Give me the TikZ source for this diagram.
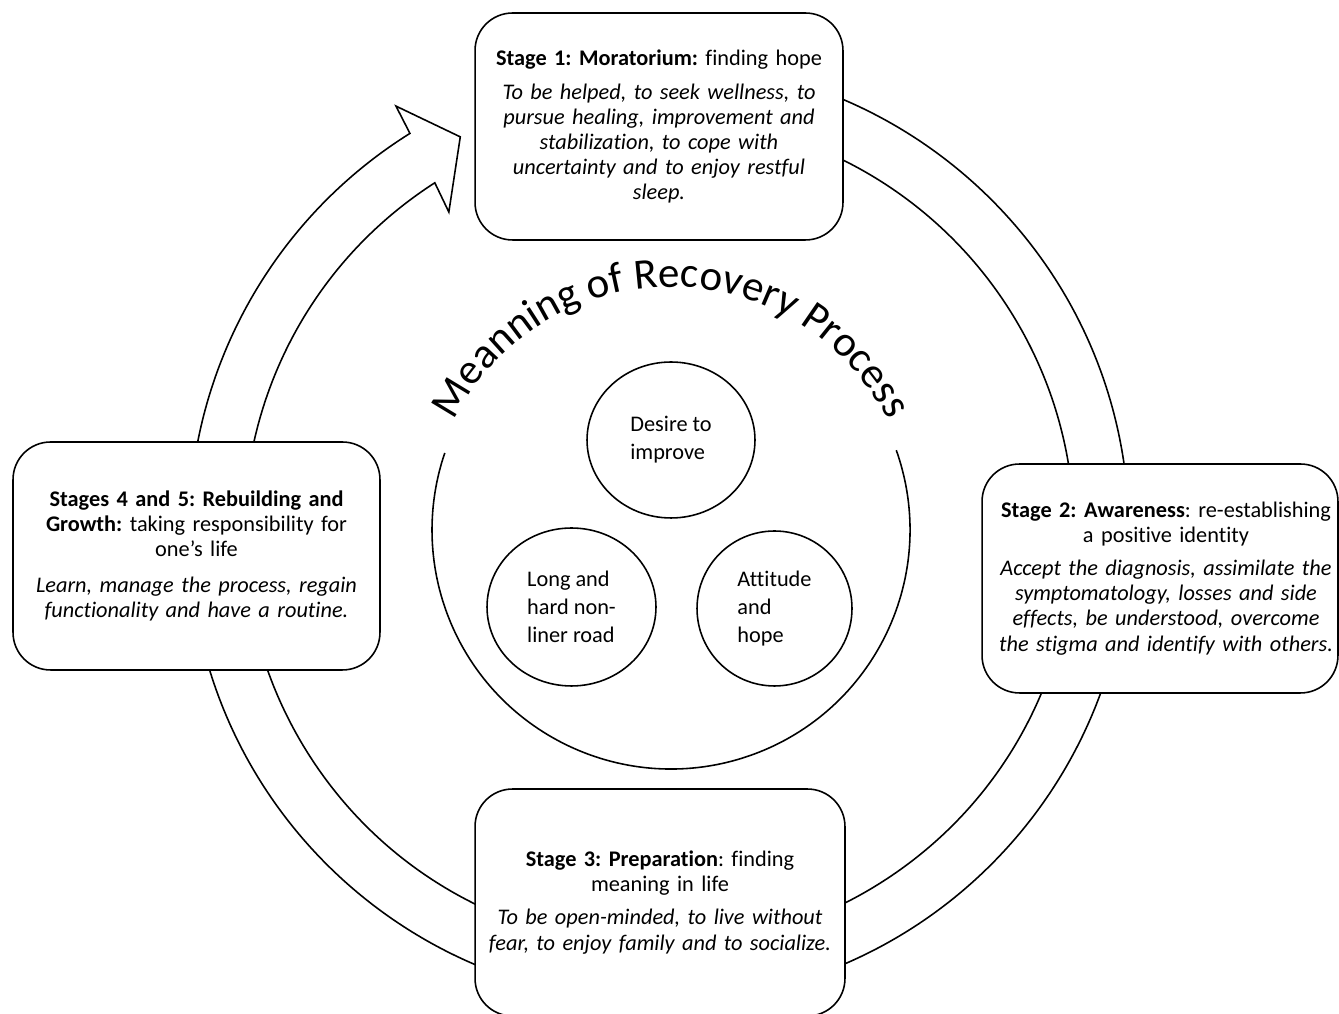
\documentclass[tikz,border=0pt]{standalone}
\usepackage{fontspec}
\setmainfont{Carlito}[Ligatures=NoCommon]
\frenchspacing
\usetikzlibrary{shapes.geometric, decorations.text, positioning}
\tikzstyle{sbox} = [draw, fill=white, rounded corners=0.75cm, line width=0.9pt, inner sep=0pt, text width=7cm, align=center, font=\fontsize{12.7}{14.3}\selectfont]
\tikzstyle{cnode} = [ellipse, draw, line width=0.9pt, inner sep=0pt, align=left, font=\fontsize{12.7}{15.9}\selectfont]
\tikzstyle{line} = [draw, line width=0.9pt]

\begin{document}
\begin{tikzpicture}[x=0.02cm, y=0.02cm]
	\useasboundingbox (0,0) rectangle (1339,1014);
	\coordinate (ctr) at (659,482);
	\coordinate (mid) at (671,484);

	% ring with its arrow head
	\path [line, shift={(ctr)}] (95:470) arc[start angle=95, end angle=-238, radius=470]
		-- (-238.3:500.6) -- (-243.3:442.3) -- (-236.7:382.8) -- (-237.3:415)
		arc[start angle=-237.3, end angle=95, radius=415] -- cycle;

	% stages
	\node [sbox, minimum width=7.36cm, minimum height=4.54cm] (s1) at (659,887.5) {\textbf{Stage 1: Moratorium:} finding hope\\[5pt]
		{\itshape To be helped, to seek wellness, to\\ pursue healing, improvement and\\ stabilization, to cope with\\ uncertainty and to enjoy restful\\ sleep.}};
	\node [sbox, minimum width=7.12cm, minimum height=4.58cm] (s2) at (1160,435.5) {\hspace*{0.24cm}\textbf{Stage 2: Awareness}: re-establishing\\ \hspace*{0.24cm}a positive identity\\[4.5pt]
		{\itshape \hspace*{0.24cm}Accept the diagnosis, assimilate the\\ \hspace*{0.24cm}symptomatology, losses and side\\ \hspace*{0.24cm}effects, be understood, overcome\\ \hspace*{0.24cm}the stigma and identify with others.}};
	\node [sbox, minimum width=7.4cm, minimum height=4.54cm] (s3) at (660,111.5) {\textbf{Stage 3: Preparation}: finding\\ meaning in life\\[4.5pt]
		{\itshape To be open-minded, to live without\\ fear, to enjoy family and to socialize.}};
	\node [sbox, minimum width=7.34cm, minimum height=4.56cm] (s45) at (196.5,458) {\textbf{Stages 4 and 5: Rebuilding and}\\ \textbf{Growth:} taking responsibility for\\ one’s life\\[6pt]
		{\itshape Learn, manage the process, regain\\ functionality and have a routine.}};

	% meaning of recovery
	\path [line] (mid) ++(19.5:239) arc[start angle=19.5, end angle=-198.8, radius=239];
	\path [decorate, decoration={text along path, text align=center,
		text={|\fontsize{24.5}{24.5}\selectfont|Meanning of Recovery Process}}]
		(mid) ++(180:243) arc[start angle=180, end angle=0, radius=243];

	\node [cnode, minimum width=3.36cm, minimum height=3.12cm] (desire) at (671,574) {Desire to\\improve};
	\node [cnode, minimum width=3.38cm, minimum height=3.16cm] (road) at (571.5,407) {Long and\\hard non-\\liner road};
	\node [cnode, minimum width=3.1cm, minimum height=3.1cm] (hope) at (774.5,405.5) {Attitude\\and\\hope};
\end{tikzpicture}
\end{document}
